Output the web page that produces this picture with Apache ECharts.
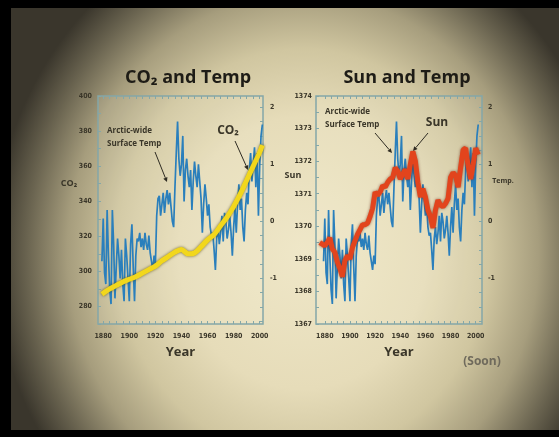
<!DOCTYPE html>
<html><head><meta charset="utf-8">
<script src="https://cdn.jsdelivr.net/npm/echarts@6/dist/echarts.min.js"></script>
<style>
html,body{margin:0;padding:0;width:559px;height:437px;background:#000;overflow:hidden;}
#bg{position:absolute;left:11px;top:8px;width:548px;height:422px;
background:radial-gradient(ellipse 310px 340px at 292px 245px,#efe7c8 0%,#e6dcb9 40%,#d0c6a0 60%,#a69d7d 76%,#6a6450 89%,#3a362c 100%);}
#chart{position:absolute;left:0;top:0;width:559px;height:437px;}
</style></head><body><div id="bg"></div><div id="chart"></div>
<script>
// ---------- data ----------
const tempStartYear = 1879;
const tempValues = [
  -0.7, 0.05, -0.9, -1.1, 0.2, -0.6, -1.2, -1.45, 0.2, -0.4,
  -1.35, -0.8, -0.3, -0.6, -1.0, -0.5, -1.1, -1.4, -0.3, -0.6,
  -1.0, -1.4, -0.4, -0.05, -0.8, -1.4, -0.6, -0.3, -0.35, -0.2,
  -0.45, -0.3, -0.5, -0.2, -0.4, -0.5, -0.25, -0.55, -0.7, -0.85,
  -0.6, -0.75, 0.1, 0.4, 0.45, 0.1, 0.3, 0.5, 0.15, 0.4,
  0.55, 0.3, 0.5, 0.25, 0.0, -0.1, 0.6, 1.2, 1.75, 1.1,
  0.8, 1.0, 1.5, 0.35, 0.9, 1.1, 0.8, 0.6, 0.9, 0.2,
  0.7, 1.05, 0.8, 0.6, 1.0, 0.7, 0.4, -0.2, 0.3, 0.65,
  0.4, 0.1, 0.3, -0.1, -0.25, -0.2, -0.5, -0.85, -0.3, -0.1,
  -0.4, -0.2, 0.1, -0.35, 0.15, 0.0, -0.3, -0.15, 0.1, -0.2,
  -0.6, -0.1, 0.25, -0.2, 0.3, 0.65, 0.2, 0.4, -0.1, -0.35,
  0.2, 0.5, 0.3, 0.9, 1.2, 0.7, 1.0, 1.3, 0.6, 1.2,
  0.1, 1.0, 1.5, 1.7
];
const co2Years  = [1879,1885,1890,1895,1900,1905,1910,1915,1920,1925,1930,1935,1940,1945,1950,1955,1960,1965,1970,1975,1980,1985,1990,1995,2000,2002];
const co2Values = [287,290,292,294,295.5,297,299,301,303,306,308.5,311,312.5,310,310.5,314,318,321,326,331,337,344,352,360,368,372];
const sunYears  = [1876,1878,1880,1882,1884,1886,1888,1890,1892,1894,1896,1898,1900,1902,1904,1906,1908,1910,1912,1914,1916,1918,1920,1922,1924,1926,1928,1930,1932,1934,1936,1938,1940,1942,1944,1946,1948,1950,1952,1954,1956,1958,1960,1962,1964,1966,1968,1970,1972,1974,1976,1978,1980,1982,1984,1986,1988,1990,1992,1994,1996,1998,2000,2002];
const sunValues = [1369.5,1369.45,1369.4,1369.5,1369.65,1369.3,1369.2,1368.9,1368.7,1368.45,1368.95,1369.1,1369.0,1369.35,1369.55,1369.75,1369.9,1370.05,1370.05,1370.1,1370.3,1370.55,1371.05,1370.95,1371.05,1371.25,1371.2,1371.35,1371.45,1371.5,1371.8,1371.7,1371.45,1371.6,1371.75,1371.45,1371.9,1372.3,1372.0,1371.35,1370.9,1371.15,1370.9,1370.5,1370.3,1369.95,1370.5,1370.8,1370.65,1370.6,1370.7,1370.85,1371.5,1371.65,1371.55,1371.2,1371.8,1372.35,1372.4,1371.85,1371.45,1371.9,1372.4,1372.2];
const yearLabels = [1880,1900,1920,1940,1960,1980,2000];
const co2Labels  = [280,300,320,340,360,380,400];
const sunLabels  = [1367,1368,1369,1370,1371,1372,1373,1374];
const tempLabels = [-1,0,1,2];

// ---------- build ----------
const tempData = tempValues.map((v,i)=>[tempStartYear+i, v]);
const co2Data  = co2Years.map((y,i)=>[y, co2Values[i]]);
const sunData  = sunYears.map((y,i)=>[y, sunValues[i]]);

const ink = '#3a3629';
const frame = '#84a7a8';
const lblFont = {color: ink, fontFamily: 'DejaVu Sans Condensed, DejaVu Sans, sans-serif', fontWeight: 'bold', fontSize: 7, formatter: v => String(v)};
function steps(a,b,s){const r=[];for(let v=a;v<=b+1e-9;v+=s)r.push(+v.toFixed(3));return r;}

function xAx(grid, min, max, top){
  return {
    type:'value', gridIndex:grid, min:min, max:max, position: top?'top':'bottom',
    axisLine:{show:false, onZero:false}, splitLine:{show:false},
    axisTick:{show:true, inside:true, length:3, customValues: steps(1880,2000,5), lineStyle:{color:frame, width:1}},
    axisLabel: top ? {show:false} : Object.assign({customValues: yearLabels, margin:9}, lblFont),
    name: top ? '' : 'Year', nameLocation:'middle', nameGap:22,
    nameTextStyle:{color:ink, fontFamily:'Open Sans, sans-serif', fontWeight:'bold', fontSize:13}
  };
}
function yAx(grid, min, max, pos, labels, tickStep, margin){
  return {
    type:'value', gridIndex:grid, min:min, max:max, position:pos,
    axisLine:{show:false, onZero:false}, splitLine:{show:false},
    axisTick:{show:true, inside:true, length:3, customValues: steps(labels[0]-tickStep*Math.floor((labels[0]-min)/tickStep), max, tickStep), lineStyle:{color:frame, width:1}},
    axisLabel: Object.assign({customValues: labels, margin: margin}, lblFont)
  };
}

const grids = [
  {left:98, top:96, width:165, height:228, show:true, borderColor:frame, borderWidth:1.5, backgroundColor:'rgba(255,252,235,0.10)'},
  {left:316, top:96, width:166, height:228, show:true, borderColor:frame, borderWidth:1.5, backgroundColor:'rgba(255,252,235,0.10)'}
];

// annotation helpers (graphic only, not data)
function txt(x,y,t,size,align){
  return {type:'text', x:x, y:y, style:{text:t, fill:ink, font:'bold '+size+'px "Open Sans", sans-serif', textAlign:align||'left', textVerticalAlign:'middle'}};
}
function arrow(x1,y1,x2,y2){
  const a=Math.atan2(y2-y1,x2-x1), L=4.5, W=2.2;
  const bx=x2-L*Math.cos(a), by=y2-L*Math.sin(a);
  return [
    {type:'line', shape:{x1:x1,y1:y1,x2:bx,y2:by}, style:{stroke:'#2e2b22', lineWidth:1}},
    {type:'polygon', shape:{points:[[x2,y2],[bx-W*Math.sin(a), by+W*Math.cos(a)],[bx+W*Math.sin(a), by-W*Math.cos(a)]]}, style:{fill:'#2e2b22'}}
  ];
}

const graphics = [
  txt(107,131,'Arctic-wide',8), txt(107,144,'Surface Temp',8),
  ...arrow(155,152,167,182),
  txt(228,131,'CO₂',12,'center'),
  ...arrow(235,141,248,170),
  txt(325,112,'Arctic-wide',8), txt(325,125,'Surface Temp',8),
  ...arrow(375,133,392,153),
  txt(437,123,'Sun',12,'center'),
  ...arrow(428,133,413,151),
  txt(69,183,'CO₂',9,'center'),
  txt(293,175,'Sun',9,'center'),
  txt(503,181,'Temp.',7,'center'),
  {type:'text', x:482, y:362, style:{text:'(Soon)', fill:'#6f6a5c', font:'bold 12px "Open Sans", sans-serif', textAlign:'center', textVerticalAlign:'middle'}}
];

const chart = echarts.init(document.getElementById('chart'), null, {renderer:'canvas'});
chart.setOption({
  backgroundColor:'transparent',
  animation:false,
  title:[
    {text:'CO₂ and Temp', left:183, top:64, textAlign:'center', textStyle:{color:'#1e1c16', fontFamily:'Open Sans, sans-serif', fontWeight:'bold', fontSize:18}},
    {text:'Sun and Temp', left:402, top:64, textAlign:'center', textStyle:{color:'#1e1c16', fontFamily:'Open Sans, sans-serif', fontWeight:'bold', fontSize:18}}
  ],
  grid: grids,
  xAxis:[ xAx(0,1876,2002.5,false), xAx(0,1876,2002.5,true), xAx(1,1873,2005,false), xAx(1,1873,2005,true) ],
  yAxis:[
    yAx(0,270,400,'left',co2Labels,10,6),
    yAx(0,-1.8,2.2,'right',tempLabels,0.25,7),
    yAx(1,1367,1374,'left',sunLabels,0.5,4),
    yAx(1,-1.8,2.2,'right',tempLabels,0.25,6)
  ],
  series:[
    {type:'line', xAxisIndex:0, yAxisIndex:1, data:tempData, showSymbol:false, z:2,
     lineStyle:{color:'#2a7fbc', width:1.7}},
    {type:'line', xAxisIndex:0, yAxisIndex:0, data:co2Data, showSymbol:false, smooth:0.3, z:3,
     lineStyle:{color:'#f2d71c', width:5, shadowColor:'rgba(80,70,0,0.75)', shadowBlur:3}},
    {type:'line', xAxisIndex:2, yAxisIndex:3, data:tempData, showSymbol:false, z:2,
     lineStyle:{color:'#2a7fbc', width:1.7}},
    {type:'line', xAxisIndex:2, yAxisIndex:2, data:sunData, showSymbol:false, z:3,
     lineStyle:{color:'#e2441d', width:5, shadowColor:'rgba(90,20,0,0.6)', shadowBlur:3}}
  ],
  graphic: graphics
});
</script></body></html>
